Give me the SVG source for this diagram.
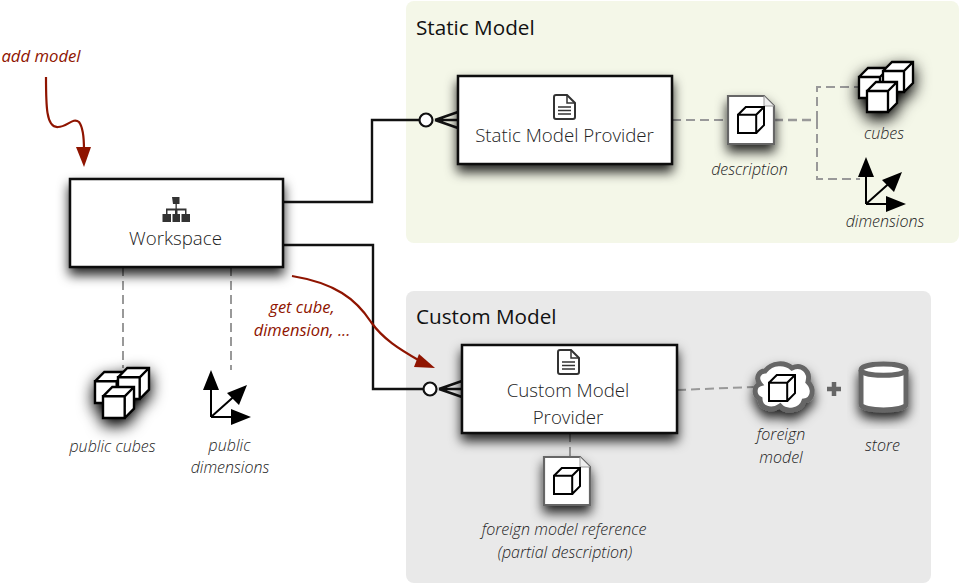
<svg xmlns="http://www.w3.org/2000/svg" xmlns:xlink="http://www.w3.org/1999/xlink" width="960" height="583" viewBox="0 0 960 583">
<style>
text{font-family:"Open Sans","Noto Sans","Liberation Sans",sans-serif;fill:#222}
.title{font-size:20.700px;fill:#111}
.box{font-size:18.700px;font-weight:300;text-anchor:middle}
.lab{font-size:16px;font-weight:300;font-style:italic;text-anchor:middle}
.red{font-size:16.500px;font-style:italic;fill:#8f1400;text-anchor:middle}
.card{fill:#fff;stroke:#111;stroke-width:2.500}
.line{fill:none;stroke:#111;stroke-width:2.400}
.dash{fill:none;stroke:#999;stroke-width:2;stroke-dasharray:9 5}
.dash2{fill:none;stroke:#999;stroke-width:2.500;stroke-dasharray:9 5}
.redl{fill:none;stroke:#8f1400;stroke-width:2.200}
.doc{fill:#fff;stroke:#666;stroke-width:2.200}
.cube{fill:#fff;stroke:#000;stroke-width:1.550;stroke-linejoin:miter}
.gray{fill:#fff;stroke:#666;stroke-width:5}
.ic{fill:#333}
</style>
<defs>
<filter id="sh" x="-30%" y="-30%" width="160%" height="170%"><feDropShadow dx="0" dy="7" stdDeviation="6" flood-color="#000" flood-opacity=".85"/></filter>
<filter id="sh2" x="-80%" y="-80%" width="260%" height="260%"><feGaussianBlur in="SourceAlpha" stdDeviation="8"/><feOffset dy="6"/><feComponentTransfer result="s"><feFuncA type="linear" slope="1.100"/></feComponentTransfer><feMerge><feMergeNode in="s"/><feMergeNode in="SourceGraphic"/></feMerge></filter>
<symbol id="cube" overflow="visible" width="20" height="20" viewBox="0 0 20 20">
<path class="cube" d="M0 6H14V20H0Z M0 6L6 0H20V14L14 20 M14 6L20 0"/>
</symbol>
<g id="dims">
<path d="M0 0V-30M0 0H30M0 0L28 -25" fill="none" stroke="#000" stroke-width="2"/>
<path d="M0-47L8-27H-8ZM40 0L20 8V-8ZM36-32L28-12L16-24Z" fill="#000"/>
</g>
<g id="docicon">
<path d="M2 0H13L21 8V22Q21 24 19 24H2Q0 24 0 22V2Q0 0 2 0Z" fill="none" stroke="#333" stroke-width="2"/>
<path d="M13 0V8H21" fill="none" stroke="#333" stroke-width="1.500"/>
<path d="M4 12H17M4 15.500H17M4 19H17" stroke="#333" stroke-width="1.500"/>
</g>
</defs>

<g id="static-model"><rect x="406" y="1" width="553" height="242" rx="8" fill="#f4f7e8"/><text class="title" x="416" y="35">Static Model</text></g>
<g id="custom-model"><rect x="406" y="291" width="525" height="292" rx="8" fill="#e9e9e9"/><text class="title" x="416" y="324">Custom Model</text></g>

<g id="connectors">
<path class="dash" d="M123 267V368M231 267V370M672 120H728M570 433V457M677 390L754 387"/>
<path class="dash2" d="M774 120H817"/>
<path class="dash" d="M817 120V87H860M817 120V179H860"/>
<path class="line" d="M283 202H372V120H420M435 120L458 112M435 120H458M435 120L458 128"/>
<circle cx="426" cy="120" r="6.500" fill="#fff" stroke="#111" stroke-width="2.200"/>
<path class="line" d="M283 245H373V389H424M439 389L462 381M439 389H462M439 389L462 397"/>
<circle cx="430" cy="389" r="6.500" fill="#fff" stroke="#111" stroke-width="2.200"/>
<path class="redl" d="M46 77C46 105 46 128 58 127C67 127 73 117 79 122C83 127 84 138 84 150"/>
<path d="M76 147H91L84 167Z" fill="#8f1400"/>
<path class="redl" d="M292 276C335 283 356 299 371 322C383 339 399 349 420 361"/>
<path d="M419 354L414 367L435 368Z" fill="#8f1400"/>
</g>

<g id="workspace"><rect class="card" x="70" y="179" width="213" height="88" filter="url(#sh)"/>
<path class="ic" d="M172 197h7.500v7h-2.700v4.500h9.700v5.500h3.500v8h-8.500v-8h3.500v-3.500h-7.500v3.500h2.500v8h-7.500v-8h2.500v-3.500h-7.500v3.500h3.500v8h-8.500v-8h3.500v-5.500h9.500v-4.500h-2.500z"/>
<text class="box" x="175.500" y="245">Workspace</text></g>

<g id="static-provider"><rect class="card" x="458" y="76" width="214" height="88" filter="url(#sh)"/>
<use xlink:href="#docicon" href="#docicon" x="554" y="95"/>
<text class="box" x="564.500" y="142">Static Model Provider</text></g>

<g id="custom-provider"><rect class="card" x="462" y="345" width="215" height="88" filter="url(#sh)"/>
<use xlink:href="#docicon" href="#docicon" x="558" y="350"/>
<text class="box" x="568" y="397">Custom Model</text><text class="box" x="568" y="424">Provider</text></g>

<g id="description"><path class="doc" d="M728 96H764L774 106V144H728Z" filter="url(#sh)"/><path d="M764 96V106H774" fill="#eee" stroke="#999"/>
<use href="#cube" x="738" y="107" width="26" height="26"/>
<text class="lab" x="749.500" y="175">description</text></g>

<g id="cubes"><g filter="url(#sh2)"><use href="#cube" x="859" y="68" width="30" height="30"/><use href="#cube" x="883" y="62" width="30" height="30"/><use href="#cube" x="867" y="82" width="30" height="30"/></g>
<text class="lab" x="884" y="139">cubes</text></g>

<g id="dimensions"><use href="#dims" x="866" y="204"/><text class="lab" x="885" y="227">dimensions</text></g>

<g id="public-cubes"><g filter="url(#sh2)"><use href="#cube" x="95" y="372" width="31" height="31"/><use href="#cube" x="118" y="368" width="31" height="31"/><use href="#cube" x="103" y="387" width="31" height="31"/></g>
<text class="lab" x="112.500" y="452">public cubes</text></g>

<g id="public-dimensions"><use href="#dims" x="211" y="417"/><text class="lab" x="229.500" y="451">public</text><text class="lab" x="230" y="473">dimensions</text></g>

<g id="foreign-reference"><path class="doc" d="M544 457H580L590 467V505H544Z" filter="url(#sh)"/><path d="M580 457V467H590" fill="#eee" stroke="#999"/>
<use href="#cube" x="554" y="468" width="26" height="26"/>
<text class="lab" x="564" y="535">foreign model reference</text><text class="lab" x="565" y="558">(partial description)</text></g>

<g id="foreign-model"><path class="gray" filter="url(#sh)" d="M765 371C772 362 785 362 792 368C802 363 811 372 808 382C815 389 813 400 804 401C801 411 786 413 780 406C771 412 760 408 760 399C753 395 754 386 760 384C755 378 759 371 765 371Z"/>
<use href="#cube" x="769" y="375" width="26" height="26"/>
<text class="lab" x="781" y="440">foreign</text><text class="lab" x="781" y="463">model</text></g>

<path id="plus" d="M834 382V396M827 389H841" stroke="#666" stroke-width="4.500" fill="none"/>

<g id="store"><path class="gray" filter="url(#sh)" d="M861 370C861 362 906 362 906 370V404C906 412 861 412 861 404Z"/><path d="M861 370C861 377 906 377 906 370" fill="none" stroke="#666" stroke-width="5"/>
<text class="lab" x="882.500" y="451">store</text></g>

<g id="labels"><text class="red" x="41" y="62" style="font-size:16.700px">add model</text>
<text class="red" x="302" y="313">get cube,</text><text class="red" x="302" y="336">dimension, ...</text></g>
</svg>
